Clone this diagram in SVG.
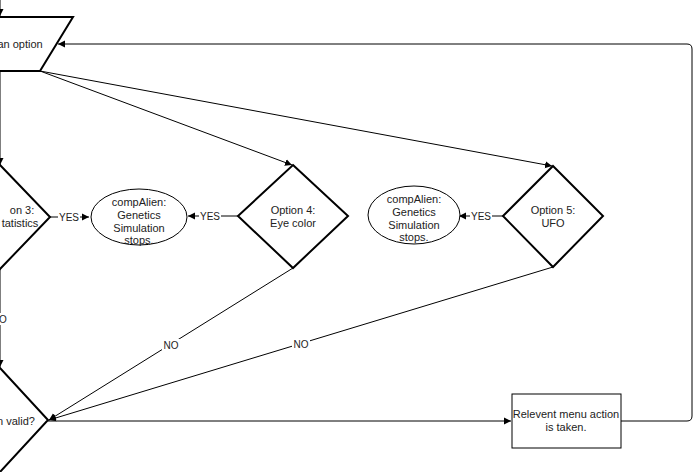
<svg xmlns="http://www.w3.org/2000/svg" width="700" height="472" viewBox="0 0 700 472">
<style>
.s{fill:#fff;stroke:#000;stroke-width:2}
.e{fill:#fff;stroke:#000;stroke-width:1}
.c{fill:none;stroke:#000;stroke-width:1}
text{font-family:"Liberation Sans",Arial,sans-serif;font-size:11px;fill:#222;text-anchor:middle}
.l{font-size:10px}
.lb{fill:#fff}
</style>
<defs><marker id="a" markerWidth="8" markerHeight="8" refX="7" refY="4" orient="auto" markerUnits="userSpaceOnUse"><path d="M0,0.5 L7,4 L0,7.5 z" fill="#000"/></marker></defs>
<rect width="700" height="472" fill="#fff"/>
<g id="connectors">
<path class="c" d="M0,0 V16" marker-end="url(#a)"/>
<path class="c" d="M0,71 V165" marker-end="url(#a)"/>
<path class="c" d="M40,71 L292,165" marker-end="url(#a)"/>
<path class="c" d="M40,71 L552,166" marker-end="url(#a)"/>
<path class="c" d="M50,217 H89" marker-end="url(#a)"/>
<path class="c" d="M238,216 H188" marker-end="url(#a)"/>
<path class="c" d="M503,216 H459" marker-end="url(#a)"/>
<path class="c" d="M0,269 V367" marker-end="url(#a)"/>
<path class="c" d="M293,268 L49,420" marker-end="url(#a)"/>
<path class="c" d="M553,267 L49,420" marker-end="url(#a)"/>
<path class="c" d="M48,421 H511" marker-end="url(#a)"/>
<path class="c" d="M621,421 H687 Q692,421 692,416 V49 Q692,44 687,44 H58" marker-end="url(#a)"/>
<rect class="lb" x="58" y="211" width="22" height="12"/><text class="l" x="69" y="221">YES</text>
<rect class="lb" x="199" y="210" width="22" height="12"/><text class="l" x="210" y="220">YES</text>
<rect class="lb" x="470" y="210" width="22" height="12"/><text class="l" x="481" y="220">YES</text>
<rect class="lb" x="0" y="313" width="8" height="12"/><text class="l" x="3" y="323">O</text>
<rect class="lb" x="162" y="339" width="18" height="12"/><text class="l" x="171" y="349">NO</text>
<rect class="lb" x="292" y="338" width="18" height="12"/><text class="l" x="301" y="348">NO</text>
</g>
<g id="input"><path class="s" d="M-40,17 H73 L40,71 H-40 z"/><text x="20" y="48">an option</text></g>
<g id="opt3"><path class="s" d="M0,165 L50,217 L0,269 L-50,217 z"/><text x="22" y="214">on 3:</text><text x="20" y="227">tatistics</text></g>
<g id="stop1"><ellipse class="e" cx="139" cy="217" rx="48" ry="28"/><text x="139" y="206">compAlien:</text><text x="139" y="219">Genetics</text><text x="139" y="232">Simulation</text><text x="139" y="244">stops.</text></g>
<g id="opt4"><path class="s" d="M293,165 L348,216 L293,268 L238,216 z"/><text x="293" y="214">Option 4:</text><text x="293" y="227">Eye color</text></g>
<g id="stop2"><ellipse class="e" cx="414" cy="215" rx="46" ry="29"/><text x="414" y="203">compAlien:</text><text x="414" y="216">Genetics</text><text x="414" y="229">Simulation</text><text x="414" y="241">stops.</text></g>
<g id="opt5"><path class="s" d="M553,166 L603,216 L553,267 L503,216 z"/><text x="553" y="214">Option 5:</text><text x="553" y="227">UFO</text></g>
<g id="valid"><path class="s" d="M0,368 L48,420 L0,472 L-48,420 z"/><text x="16" y="425">n valid?</text></g>
<g id="action"><rect class="e" x="512" y="394" width="109" height="54"/><text x="566" y="418">Relevent menu action</text><text x="566" y="431">is taken.</text></g>
</svg>
